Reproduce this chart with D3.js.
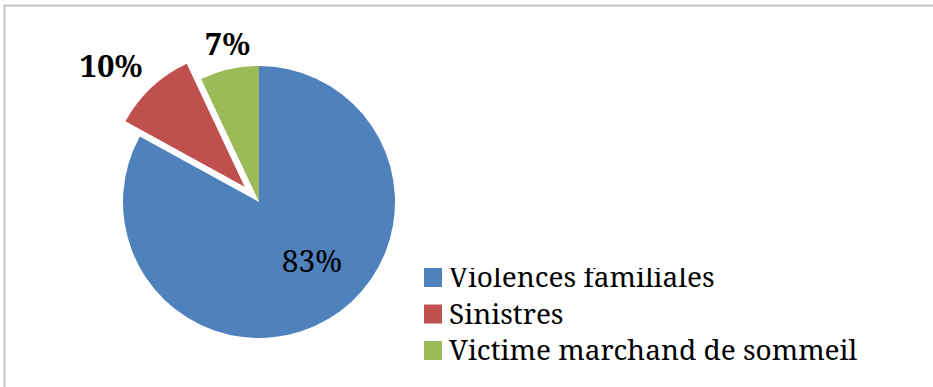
<!DOCTYPE html>
<html lang="fr">
<head>
<meta charset="utf-8">
<script src="https://cdn.jsdelivr.net/npm/d3@7"></script>
<style>
  html, body { margin: 0; padding: 0; background: #fff; }
  svg { display: block; }
</style>
</head>
<body>
<div id="chart"></div>
<script>
// data
const categories = ["Violences familiales", "Sinistres", "Victime marchand de sommeil"];
const values = [83, 10, 7];
const colors = ["#4f81bd", "#c0504d", "#9bbb59"];

const width = 933, height = 387;
const cx = 259, cy = 202, radius = 136;
const explodeIndex = 1, explodeDist = 21;
const serif = "Noto Serif, Liberation Serif, serif";
// small hand nudges so labels sit where Excel put them
const labelNudge = [[10, -14], [-11, 9], [5, 4]];

const svg = d3.select("#chart").append("svg")
  .attr("width", width)
  .attr("height", height);

// frame (only top and left edges visible in the crop)
svg.append("path")
  .attr("d", `M4.5,${height} V5.5 H${width}`)
  .attr("fill", "none")
  .attr("stroke", "#c4c4c4")
  .attr("stroke-width", 2);

const pie = d3.pie().sort(null).value(d => d)(values);
const arc = d3.arc().innerRadius(0).outerRadius(radius);

const g = svg.append("g").attr("transform", `translate(${cx},${cy})`);

function offset(d, dist) {
  const a = (d.startAngle + d.endAngle) / 2;
  return [Math.sin(a) * dist, -Math.cos(a) * dist];
}

g.selectAll("path.slice")
  .data(pie)
  .join("path")
  .attr("class", "slice")
  .attr("d", arc)
  .attr("fill", (d, i) => colors[i])
  .attr("transform", (d, i) => {
    const o = offset(d, i === explodeIndex ? explodeDist : 0);
    return `translate(${o[0]},${o[1]})`;
  });

// labels: big slice inside, small slices outside
const labels = g.selectAll("text.lbl")
  .data(pie)
  .join("text")
  .attr("class", "lbl")
  .attr("text-anchor", "middle")
  .attr("dominant-baseline", "central")
  .attr("font-family", serif)
  .attr("font-size", (d, i) => i === 0 ? 30 : 31)
  .attr("font-weight", (d, i) => i === 0 ? "normal" : "bold")
  .attr("fill", "#000")
  .text(d => d.data + "%");

labels.each(function(d, i) {
  const box = this.getBBox();
  const a = (d.startAngle + d.endAngle) / 2;
  let r;
  if (i === 0) {
    r = radius * 0.62;
  } else {
    const proj = Math.abs(Math.sin(a)) * box.width / 2 + Math.abs(Math.cos(a)) * box.height / 2;
    r = radius + 6 + proj + (i === explodeIndex ? explodeDist : 0);
  }
  const p = offset(d, r);
  d3.select(this)
    .attr("x", p[0] + labelNudge[i][0])
    .attr("y", p[1] + labelNudge[i][1]);
});

// legend, cut off at the bottom like the source
svg.append("clipPath").attr("id", "legclip")
  .append("rect").attr("x", 0).attr("y", 0).attr("width", width).attr("height", 358);

const legend = svg.append("g")
  .attr("clip-path", "url(#legclip)")
  .attr("transform", "translate(424,268)");

const rows = legend.selectAll("g")
  .data(categories)
  .join("g")
  .attr("transform", (d, i) => `translate(0,${i * 36.5})`);

rows.append("rect")
  .attr("width", 18)
  .attr("height", 19)
  .attr("fill", (d, i) => colors[i]);

rows.append("text")
  .attr("x", 25)
  .attr("y", 19)
  .attr("font-family", serif)
  .attr("font-size", 28)
  .attr("fill", "#000")
  .text(d => d);
</script>
</body>
</html>
